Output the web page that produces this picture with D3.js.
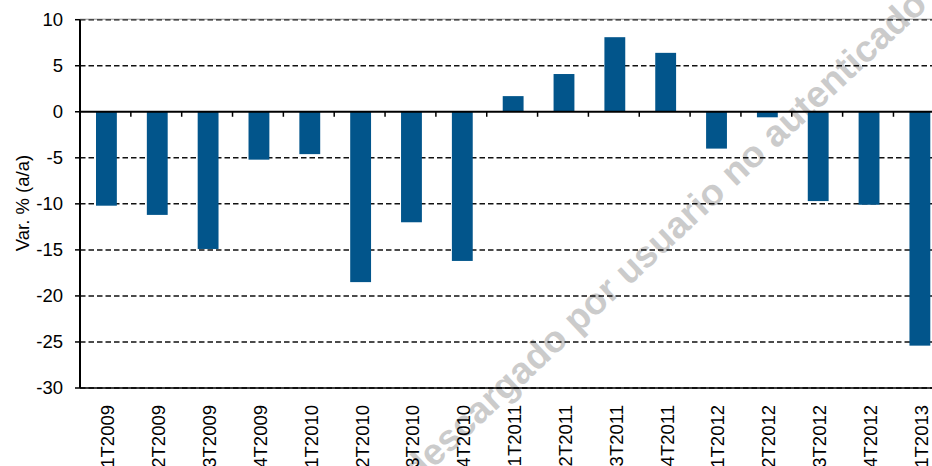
<!DOCTYPE html>
<meta charset="utf-8">
<title>Var. % (a/a)</title>
<style>
body {
  margin: 0px;
  background: white;
  font-family: "Liberation Sans", Arial, sans-serif;
}
svg {
  display: block;
}
.grid line {
  stroke: #111;
  stroke-width: 1.5;
  stroke-dasharray: 5.5,3;
}
.bar {
  fill: #02558b;
}
.label {
  font-size: 18.5px;
  fill: #000;
}
.watermark {
  font-size: 37px;
  font-weight: bold;
  fill: #cbcbcb;
}
</style>
<body>
<div id="chart"></div>
<script src="https://cdn.jsdelivr.net/npm/d3@7"></script>
<script>

// Data
var quarters = ["1T2009","2T2009","3T2009","4T2009","1T2010","2T2010","3T2010","4T2010",
                "1T2011","2T2011","3T2011","4T2011","1T2012","2T2012","3T2012","4T2012","1T2013"];
var values = [-10.2, -11.2, -14.9, -5.2, -4.6, -18.5, -12.0, -16.2,
              1.7, 4.1, 8.1, 6.4, -4.0, -0.6, -9.7, -10.1, -25.4];
var yTicks = [10, 5, 0, -5, -10, -15, -20, -25, -30];

var width = 932, height = 466;

var svg = d3.select("#chart").append("svg")
    .attr("width", width)
    .attr("height", height);

// Scales
var x = d3.scaleBand()
    .domain(quarters)
    .range([80, 944.3])
    .paddingInner(0.59)
    .paddingOuter(0.295);

var y = d3.scaleLinear()
    .domain([-30, 10])
    .range([388, 19.7]);

// Watermark (behind everything)
svg.append("text")
    .attr("class", "watermark")
    .attr("transform", "translate(664,236) rotate(-43)")
    .attr("text-anchor", "middle")
    .attr("dy", "0.35em")
    .attr("textLength", 700)
    .attr("lengthAdjust", "spacingAndGlyphs")
    .text("descargado por usuario no autenticado");

// Dashed gridlines
svg.append("g")
    .attr("class", "grid")
    .selectAll("line")
    .data(yTicks.filter(function(d){ return d !== 0; }))
    .enter().append("line")
    .attr("x1", 80)
    .attr("x2", width)
    .attr("y1", function(d){ return y(d); })
    .attr("y2", function(d){ return y(d); });

// Plot border top / bottom
svg.append("line")
    .attr("x1", 80).attr("x2", width)
    .attr("y1", y(10) - 0.5).attr("y2", y(10) - 0.5)
    .style("stroke", "#777").style("stroke-width", 0.8);
svg.append("line")
    .attr("x1", 80).attr("x2", width)
    .attr("y1", y(-30)).attr("y2", y(-30))
    .style("stroke", "#000").style("stroke-width", 1.5);

// Bars
svg.append("g")
    .selectAll("rect")
    .data(values)
    .enter().append("rect")
    .attr("class", "bar")
    .attr("x", function(d, i){ return x(quarters[i]) + 1; })
    .attr("width", x.bandwidth())
    .attr("y", function(d){ return y(Math.max(0, d)); })
    .attr("height", function(d){ return Math.abs(y(d) - y(0)); });

// Category axis at zero
var step = x.step();
svg.append("line")
    .attr("x1", 80).attr("x2", width)
    .attr("y1", y(0)).attr("y2", y(0))
    .style("stroke", "#000").style("stroke-width", 2);

svg.append("g")
    .selectAll("line")
    .data(quarters.slice(1))
    .enter().append("line")
    .attr("x1", function(d){ return x(d) - x.paddingInner() * step / 2; })
    .attr("x2", function(d){ return x(d) - x.paddingInner() * step / 2; })
    .attr("y1", y(0))
    .attr("y2", y(0) + 5)
    .style("stroke", "#000").style("stroke-width", 1.5);

// Category labels
svg.append("g")
    .selectAll("text")
    .data(quarters)
    .enter().append("text")
    .attr("class", "label")
    .attr("transform", function(d){
      return "translate(" + (x(d) + x.bandwidth() / 2 + 2.5) + ",405) rotate(-90)";
    })
    .attr("text-anchor", "end")
    .attr("dy", "0.35em")
    .text(function(d){ return d; });

// Value axis
svg.append("line")
    .attr("x1", 80).attr("x2", 80)
    .attr("y1", y(10)).attr("y2", y(-30))
    .style("stroke", "#000").style("stroke-width", 2);

svg.append("g")
    .selectAll("line")
    .data(yTicks)
    .enter().append("line")
    .attr("x1", 75).attr("x2", 80)
    .attr("y1", function(d){ return y(d); })
    .attr("y2", function(d){ return y(d); })
    .style("stroke", "#000").style("stroke-width", 1.5);

svg.append("g")
    .selectAll("text")
    .data(yTicks)
    .enter().append("text")
    .attr("class", "label")
    .attr("x", 63)
    .attr("y", function(d){ return y(d); })
    .attr("dy", "0.35em")
    .attr("text-anchor", "end")
    .text(function(d){ return d; });

// Axis title
svg.append("text")
    .attr("class", "label")
    .attr("transform", "translate(23,203) rotate(-90)")
    .attr("text-anchor", "middle")
    .attr("dy", "0.35em")
    .text("Var. % (a/a)");

</script>
</body>
